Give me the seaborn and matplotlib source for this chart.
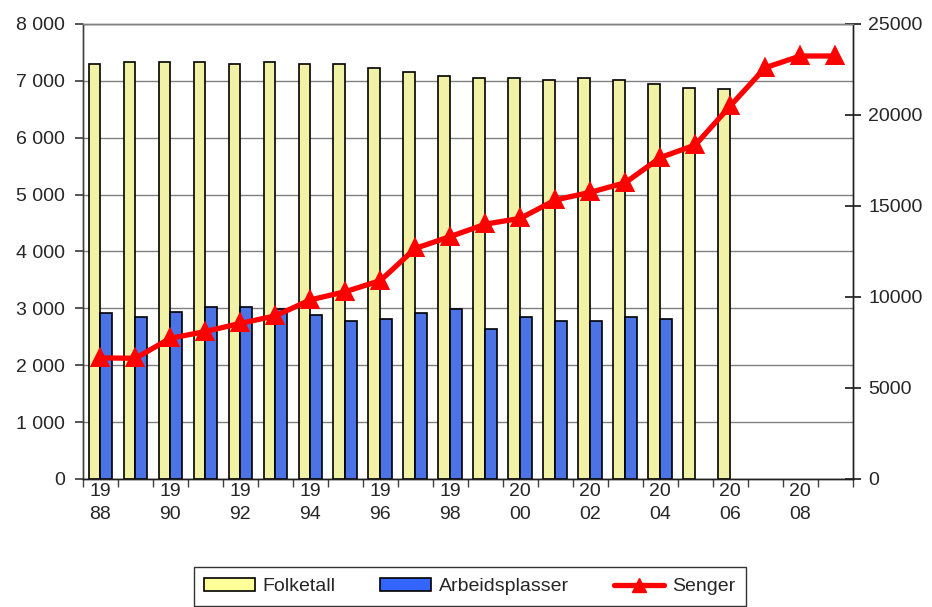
import numpy as np
import pandas as pd
import matplotlib
matplotlib.use("Agg")
import matplotlib.pyplot as plt
from matplotlib.patches import Patch
from matplotlib.lines import Line2D
from matplotlib.ticker import FuncFormatter, MultipleLocator
import seaborn as sns

# data
years = list(range(1988, 2010))
folketall = [7300, 7330, 7330, 7330, 7300, 7330, 7300, 7300, 7230, 7160,
             7080, 7050, 7050, 7020, 7050, 7020, 6950, 6880, 6850]
arbeidsplasser = [2910, 2840, 2940, 3020, 3020, 2980, 2880, 2780, 2810, 2910,
                  2980, 2630, 2840, 2780, 2780, 2840, 2810]
senger = [6650, 6630, 7730, 8100, 8550, 8960, 9840, 10290, 10900, 12670, 13320,
          14000, 14320, 15330, 15750, 16280, 17660, 18350, 20500, 22600, 23240, 23240]

series_names = ["Folketall", "Arbeidsplasser"]
colors = {"Folketall": "#FFFF99", "Arbeidsplasser": "#3366FF"}
line_color = "#FF0000"

year_labels = [str(y) for y in years]

# long table for the bar series
rows = []
for y, v in zip(year_labels, folketall):
    rows.append({"aar": y, "serie": "Folketall", "verdi": v})
for y, v in zip(year_labels, arbeidsplasser):
    rows.append({"aar": y, "serie": "Arbeidsplasser", "verdi": v})
bars = pd.DataFrame(rows)

FS = 14

sns.set_theme(style="white")
plt.rcParams["font.family"] = ["Liberation Sans", "DejaVu Sans"]
plt.rcParams["font.size"] = FS

fig, ax = plt.subplots(figsize=(9.32, 6.07), dpi=100)
fig.subplots_adjust(left=0.089, right=0.915, top=0.9605, bottom=0.211)

sns.barplot(data=bars, x="aar", y="verdi", hue="serie", order=year_labels,
            hue_order=series_names, palette=colors, width=0.68,
            edgecolor="black", linewidth=1.2, errorbar=None, ax=ax,
            legend=False, zorder=2)

ax2 = ax.twinx()
sns.pointplot(x=year_labels, y=senger, order=year_labels, color=line_color,
              markers="^", markersize=10, linewidth=3.8, errorbar=None, ax=ax2)

# left axis
ax.set_ylim(0, 8000)
ax.yaxis.set_major_locator(MultipleLocator(1000))
ax.yaxis.set_major_formatter(FuncFormatter(lambda v, p: f"{int(v):,}".replace(",", " ")))
ax.grid(axis="y", color="#808080", linewidth=1.0, zorder=0)
ax.set_axisbelow(True)
ax.set_xlabel("")
ax.set_ylabel("")
ax.tick_params(axis="y", direction="out", length=6, color="#404040",
               labelsize=FS, pad=7, left=True)

# right axis
ax2.set_ylim(0, 25000)
ax2.yaxis.set_major_locator(MultipleLocator(5000))
ax2.set_ylabel("")
ax2.tick_params(axis="y", direction="inout", length=12, color="#202020",
                labelsize=FS, pad=5, right=True)
ax2.grid(False)

# x axis: labels every other year, ticks between categories
ax.set_xlim(-0.5, len(years) - 0.5)
major_pos = list(range(0, len(years), 2))
ax.set_xticks(major_pos)
ax.set_xticklabels([f"{year_labels[i][:2]}\n{year_labels[i][2:]}" for i in major_pos],
                   linespacing=1.45)
ax.set_xticks(np.arange(-0.5, len(years)), minor=True)
ax.tick_params(axis="x", which="major", length=0, pad=3, labelsize=FS)
ax.tick_params(axis="x", which="minor", direction="out", length=6,
               color="#404040", bottom=True)

for a in (ax, ax2):
    a.spines["top"].set_color("#808080")
    a.spines["left"].set_color("#404040")
    a.spines["bottom"].set_color("#202020")
    a.spines["right"].set_color("#202020")
    for s in a.spines.values():
        s.set_linewidth(1.0)

handles = [
    Patch(facecolor=colors["Folketall"], edgecolor="black", linewidth=1.2),
    Patch(facecolor=colors["Arbeidsplasser"], edgecolor="black", linewidth=1.2),
    Line2D([], [], color=line_color, linewidth=3.8, marker="^", markersize=10),
]
leg = fig.legend(handles, ["Folketall", "Arbeidsplasser", "Senger"],
                 loc="lower center", bbox_to_anchor=(0.504, 0.0), ncol=3,
                 frameon=True, fancybox=False, edgecolor="black", fontsize=FS,
                 handlelength=2.6, handleheight=0.65, columnspacing=2.3,
                 borderpad=0.55, handletextpad=0.4, borderaxespad=0.05)
leg.get_frame().set_linewidth(1.0)

fig.savefig("out.png", dpi=100, facecolor="white")
